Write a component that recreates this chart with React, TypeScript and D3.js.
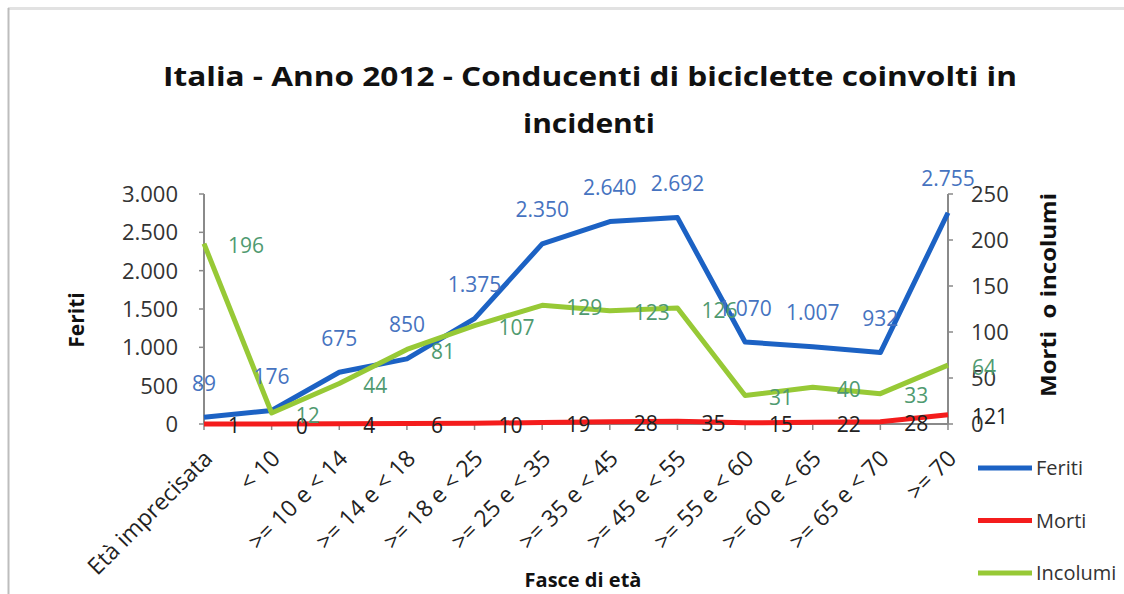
import React from "react";
import * as d3 from "d3";

const categories = [
  "Età imprecisata",
  "< 10",
  ">= 10 e < 14",
  ">= 14 e < 18",
  ">= 18 e < 25",
  ">= 25 e < 35",
  ">= 35 e < 45",
  ">= 45 e < 55",
  ">= 55 e < 60",
  ">= 60 e < 65",
  ">= 65 e < 70",
  ">= 70",
];
const feriti = [89, 176, 675, 850, 1375, 2350, 2640, 2692, 1070, 1007, 932, 2755];
const morti = [1, 0, 4, 6, 10, 19, 28, 35, 15, 22, 28, 121];
const incolumi = [196, 12, 44, 81, 107, 129, 123, 126, 31, 40, 33, 64];
const leftTicks = [0, 500, 1000, 1500, 2000, 2500, 3000];
const rightTicks = [0, 50, 100, 150, 200, 250];
const legendItems = ["Feriti", "Morti", "Incolumi"];

const W = 1124;
const H = 594;
const X0 = 204;
const X1 = 948;
const YT = 194;
const YB = 424;

const BLUE = "#1c62c4";
const RED = "#f41c1c";
const GREEN = "#97c936";
const BLUE_LBL = "#4673c0";
const GREEN_LBL = "#4f9a70";
const FONT = "'Open Sans', 'Noto Sans', sans-serif";

const itLocale = d3.formatLocale({ decimal: ",", thousands: ".", grouping: [3], currency: ["", "€"] });
const fmt = itLocale.format(",");

export default function App() {
  const x = d3.scalePoint<string>().domain(categories).range([X0, X1]);
  const yL = d3.scaleLinear().domain([0, 3000]).range([YB, YT]);
  const yR = d3.scaleLinear().domain([0, 250]).range([YB, YT]);

  const lineL = d3
    .line<number>()
    .x((_, i) => x(categories[i]) as number)
    .y((d) => yL(d));
  const lineR = d3
    .line<number>()
    .x((_, i) => x(categories[i]) as number)
    .y((d) => yR(d));

  const colors = [BLUE, RED, GREEN];

  return (
    <svg
      width={W}
      height={H}
      style={{ position: "absolute", left: 0, top: 0, background: "#fff" }}
      fontFamily={FONT}
    >
      <rect x={0} y={0} width={W} height={H} fill="#fff" />
      {/* frame */}
      <line x1={8} x2={W} y1={8.5} y2={8.5} stroke="#e2e2e2" strokeWidth={3} />
      <line x1={8.5} x2={8.5} y1={8} y2={H} stroke="#bdbdbd" strokeWidth={2} />

      {/* title */}
      <text x={590} y={86} textAnchor="middle" fontSize={27} fontWeight="bold" fill="#111"
        textLength={854} lengthAdjust="spacingAndGlyphs">
        Italia - Anno 2012 - Conducenti di biciclette coinvolti in
      </text>
      <text x={589} y={133} textAnchor="middle" fontSize={27} fontWeight="bold" fill="#111"
        textLength={132} lengthAdjust="spacingAndGlyphs">
        incidenti
      </text>

      {/* axes */}
      <line x1={X0} x2={X0} y1={YT} y2={YB} stroke="#8a8a8a" strokeWidth={2} />
      <line x1={X1} x2={X1} y1={YT} y2={YB} stroke="#8a8a8a" strokeWidth={2} />
      <line x1={X0} x2={X1} y1={YB} y2={YB} stroke="#8a8a8a" strokeWidth={2} />
      {leftTicks.map((t) => (
        <g key={"l" + t}>
          <line x1={X0 - 5} x2={X0} y1={yL(t)} y2={yL(t)} stroke="#8a8a8a" strokeWidth={1.5} />
          <text x={178} y={yL(t)} dy="0.36em" textAnchor="end" fontSize={22} fill="#333">
            {fmt(t)}
          </text>
        </g>
      ))}
      {rightTicks.map((t) => (
        <g key={"r" + t}>
          <line x1={X1} x2={X1 + 5} y1={yR(t)} y2={yR(t)} stroke="#8a8a8a" strokeWidth={1.5} />
          <text x={971} y={yR(t)} dy="0.36em" textAnchor="start" fontSize={22} fill="#333">
            {fmt(t)}
          </text>
        </g>
      ))}
      {categories.map((c) => {
        const cx = x(c) as number;
        return (
          <g key={"c" + c}>
            <line x1={cx} x2={cx} y1={YB} y2={YB + 6} stroke="#8a8a8a" strokeWidth={1.5} />
            <text
              transform={`translate(${cx + 4},${YB + 30}) rotate(-45)`}
              textAnchor="end"
              dy="0.36em"
              fontSize={23}
              fill="#222"
            >
              {c}
            </text>
          </g>
        );
      })}

      {/* axis titles */}
      <text transform={`translate(76,320) rotate(-90)`} textAnchor="middle" dy="0.36em"
        fontSize={21} fontWeight="bold" fill="#111">
        Feriti
      </text>
      <text transform={`translate(1048,295) rotate(-90)`} textAnchor="middle" dy="0.36em"
        fontSize={21} fontWeight="bold" fill="#111" style={{ whiteSpace: "pre" }}
        textLength={204} lengthAdjust="spacingAndGlyphs">
        {"Morti  o incolumi"}
      </text>
      <text x={583} y={587} textAnchor="middle" fontSize={20} fontWeight="bold" fill="#111">
        Fasce di età
      </text>

      {/* lines */}
      <path d={lineL(feriti) || ""} fill="none" stroke={BLUE} strokeWidth={5} strokeLinejoin="round" />
      <path d={lineL(morti) || ""} fill="none" stroke={RED} strokeWidth={5} strokeLinejoin="round" />
      <path d={lineR(incolumi) || ""} fill="none" stroke={GREEN} strokeWidth={5} strokeLinejoin="round" />

      {/* data labels */}
      {feriti.map((v, i) => (
        <text key={"fl" + i} x={x(categories[i]) as number} y={yL(v) - 34} dy="0.36em"
          textAnchor="middle" fontSize={21} fill={BLUE_LBL}>
          {fmt(v)}
        </text>
      ))}
      {morti.map((v, i) => (
        <text key={"ml" + i} x={(x(categories[i]) as number) + 24} y={yL(v) + 2} dy="0.36em"
          textAnchor="start" fontSize={21} fill="#222">
          {fmt(v)}
        </text>
      ))}
      {incolumi.map((v, i) => (
        <text key={"il" + i} x={(x(categories[i]) as number) + 24} y={yR(v) + 2} dy="0.36em"
          textAnchor="start" fontSize={21} fill={GREEN_LBL}>
          {fmt(v)}
        </text>
      ))}

      {/* legend */}
      {legendItems.map((name, i) => {
        const ly = 468 + i * 52.5;
        return (
          <g key={"lg" + name}>
            <line x1={978} x2={1032} y1={ly} y2={ly} stroke={colors[i]} strokeWidth={5} />
            <text x={1036} y={ly} dy="0.36em" fontSize={20} fill="#333">
              {name}
            </text>
          </g>
        );
      })}
    </svg>
  );
}
